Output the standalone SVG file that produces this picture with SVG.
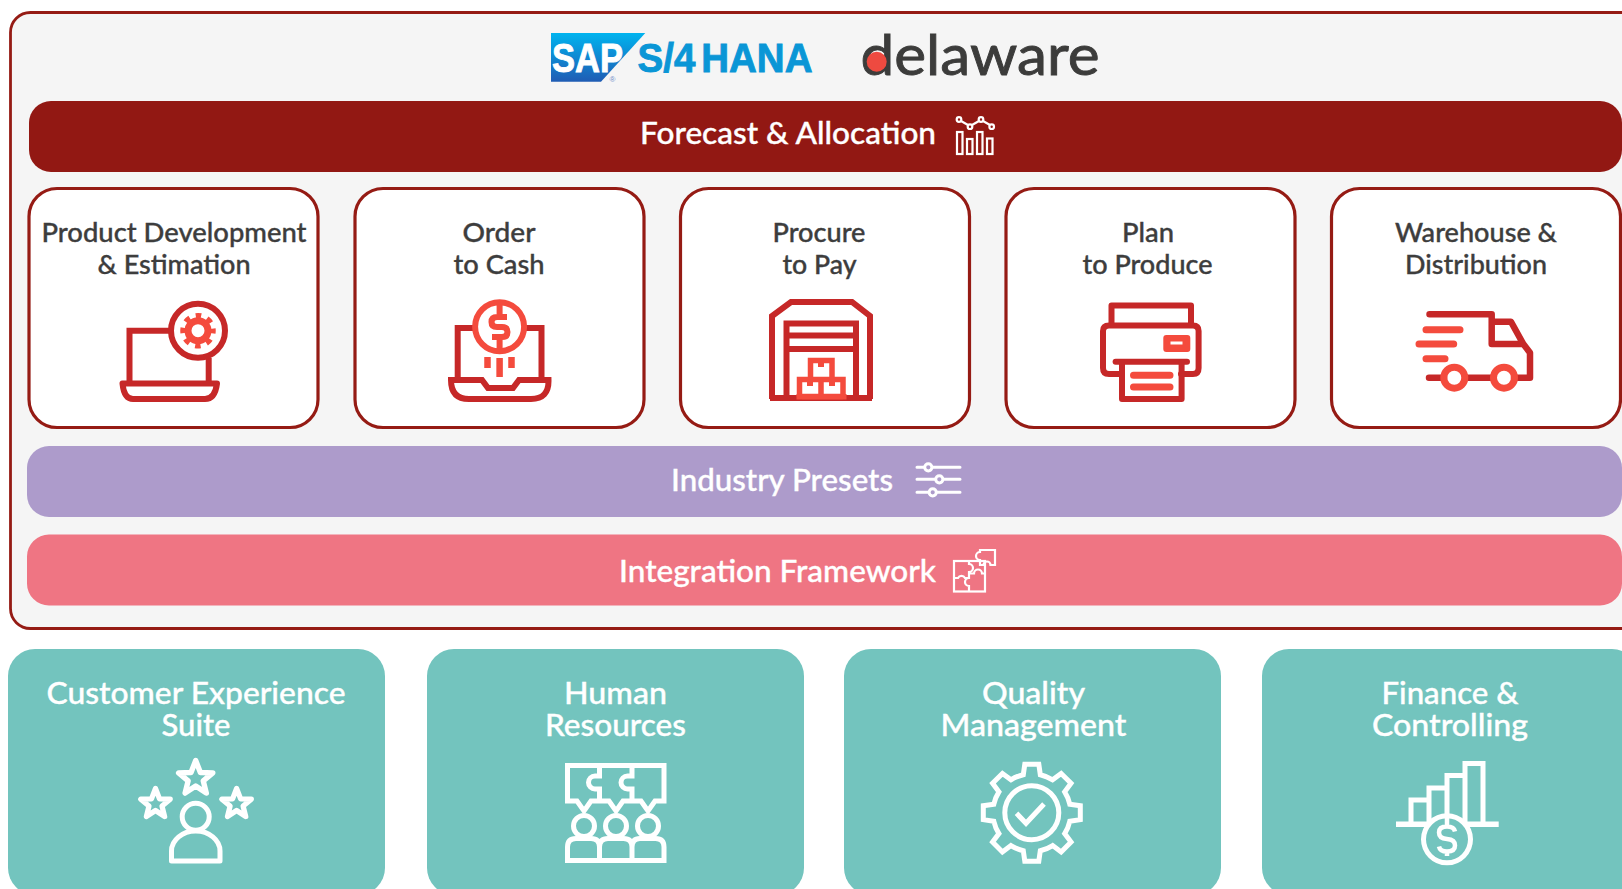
<svg xmlns="http://www.w3.org/2000/svg" width="1622" height="889" viewBox="0 0 1622 889">
<style>
text{font-family:"Lato","Noto Sans","Liberation Sans",sans-serif;text-anchor:middle;font-weight:500}
.dk{fill:#3d3d3d;stroke:#3d3d3d;stroke-width:.35;font-size:26px}
.wh{fill:#fff;stroke:#fff;stroke-width:.35;font-size:30px}
.sap{font-family:"Liberation Sans",sans-serif;font-weight:700;font-size:40px;stroke-width:.9}
.card{fill:#fff;stroke:#951b14;stroke-width:3.2}
.d{fill:none;stroke:#c62828;stroke-width:6;stroke-linejoin:miter}
.l{fill:none;stroke:#f44b3d;stroke-width:5.5}
.lf{fill:#f44b3d;stroke:none}
.r{stroke-linecap:round;stroke-linejoin:round}
.w{fill:none;stroke:#fff;stroke-width:5}
.w2{fill:none;stroke:#fff;stroke-width:2.2}
.teal{fill:#73c4be}
</style>
<defs>
<linearGradient id="sapg" x1="0" y1="0" x2="0" y2="1"><stop offset="0" stop-color="#00b4ef"/><stop offset="1" stop-color="#1f5cb4"/></linearGradient>
<polygon id="star" points="0,-1 0.26,-0.33 0.95,-0.31 0.42,0.13 0.59,0.81 0,0.42 -0.59,0.81 -0.42,0.13 -0.95,-0.31 -0.26,-0.33"/>
</defs>
<rect width="1622" height="889" fill="#fff"/>
<g id="frame"><rect x="10.5" y="12.5" width="1660" height="616" rx="20" fill="#f5f5f5" stroke="#951b14" stroke-width="2.8"/></g>

<g id="logo-sap">
<polygon points="551,33 645.3,33 601,81.7 551,81.7" fill="url(#sapg)"/>
<text class="sap" x="587.500" y="71.700" textLength="71" lengthAdjust="spacingAndGlyphs" style="fill:#fff;stroke:#fff">SAP</text>
<text class="sap" x="725" y="71.700" textLength="175" lengthAdjust="spacingAndGlyphs" style="fill:#0a96d6;stroke:#0a96d6;word-spacing:-5px">S/4 HANA</text>
<text x="612.500" y="81.500" style="font-family:'Liberation Sans',sans-serif;font-weight:400;font-size:8px;fill:#6d8fc9">®</text>
</g>
<g id="logo-delaware">
<text x="980" y="75" textLength="239" lengthAdjust="spacingAndGlyphs" style="font-size:57px;font-weight:400;fill:#3c3c3b;stroke:#3c3c3b;stroke-width:.9">delaware</text>
<circle cx="876.700" cy="61.700" r="10" fill="#ee4a40"/>
</g>

<g id="forecast">
<rect x="29" y="101" width="1593" height="71" rx="22" fill="#921813"/>
<text class="wh" x="788" y="143.500" textLength="296" lengthAdjust="spacingAndGlyphs">Forecast &amp; Allocation</text>
<g class="w2">
<rect x="957" y="132" width="5.500" height="22"/><rect x="967" y="139" width="5.500" height="15"/><rect x="977" y="132" width="5.500" height="22"/><rect x="987" y="138.500" width="5.500" height="15.500"/>
<path d="M961 121L968 125M972 125L979 121M983 121L990 125"/>
<circle cx="959" cy="119.500" r="2.300"/><circle cx="970" cy="126.700" r="2.300"/><circle cx="981" cy="119.500" r="2.300"/><circle cx="991.700" cy="126.700" r="2.300"/>
</g>
</g>

<g id="card-product">
<rect class="card" x="29" y="188.500" width="289" height="239" rx="28"/>
<text class="dk" x="174" y="241.500" textLength="265" lengthAdjust="spacingAndGlyphs">Product Development</text>
<text class="dk" x="174" y="273.500" textLength="153" lengthAdjust="spacingAndGlyphs">&amp; Estimation</text>
<path class="d" d="M170 330.700H129.500V382.700M208.700 358V382.700"/>
<path class="d r" d="M122.500 383.500H217Q215 399 205 399H133Q124 399 122.500 383.500Z"/>
<circle cx="198" cy="330.700" r="27" class="d" style="fill:#fff"/>
<circle cx="198" cy="330.700" r="10" class="l" style="stroke-width:7"/>
<circle cx="198" cy="330.700" r="15" class="l" style="stroke-dasharray:5.500 6.280;stroke-dashoffset:2.750"/>
</g>

<g id="card-order">
<rect class="card" x="355" y="188.500" width="289" height="239" rx="28"/>
<text class="dk" x="499" y="241.500" textLength="73" lengthAdjust="spacingAndGlyphs">Order</text>
<text class="dk" x="499" y="273.500" textLength="91" lengthAdjust="spacingAndGlyphs">to Cash</text>
<path class="d" d="M475 328H457.700V380M522 328H541.500V380"/>
<path class="d" d="M451 380H482L488 388H513L519 380H548.500Q549 399 531 399H469Q451 399 451 380Z"/>
<circle cx="499.600" cy="326.700" r="24.500" class="l" style="fill:#fff;stroke-width:6"/>
<path class="l" d="M507 317H497Q491.500 317 491.500 322Q491.500 327 497 327H502Q507.500 327 507.500 332Q507.500 337 502 337H492M499.600 304V317M499.600 337V349" style="stroke-width:6"/>
<path class="l" d="M487.500 357V368M499.600 358V377M511.500 357V368" style="stroke-width:6.500"/>
</g>

<g id="card-procure">
<rect class="card" x="680.500" y="188.500" width="289" height="239" rx="28"/>
<text class="dk" x="819" y="241.500" textLength="93" lengthAdjust="spacingAndGlyphs">Procure</text>
<text class="dk" x="819.500" y="273.500" textLength="74" lengthAdjust="spacingAndGlyphs">to Pay</text>
<path class="d" d="M772 399V316L791 302H852L870 316V399M770 398H872"/>
<path class="d" d="M786.500 398V323.500H856V398M786.500 335.500H856M786.500 349H856"/>
<path class="l" d="M799.500 397V379.500H843V397M802 396.500H843M821 380V396M810.500 379V360.500H832V379" style="fill:#fff"/>
<path class="lf" d="M796.500 394H846.500V399.500H796.500ZM818 360H824V367H818ZM807 379H813V386H807ZM829 379H835V386H829Z"/>
</g>

<g id="card-plan">
<rect class="card" x="1006" y="188.500" width="289" height="239" rx="28"/>
<text class="dk" x="1148" y="241.500" textLength="52" lengthAdjust="spacingAndGlyphs">Plan</text>
<text class="dk" x="1147.500" y="273.500" textLength="130" lengthAdjust="spacingAndGlyphs">to Produce</text>
<path class="d r" d="M1111.500 325V305.500H1191V325"/>
<path class="d r" d="M1122 374H1109Q1103 374 1103 368V331Q1103 325.500 1109 325.500H1193Q1198.600 325.500 1198.600 331V368Q1198.600 374 1193 374H1181"/>
<rect class="lf" x="1163.300" y="335" width="27" height="17" rx="3"/>
<rect x="1170.500" y="341.500" width="12" height="3" fill="#fff"/>
<path class="d r" d="M1115.600 361.700H1187"/>
<path class="d r" d="M1122 362V399H1181.600V362"/>
<path class="l r" d="M1133.500 375.300H1170M1133.500 387H1170" style="stroke-width:7"/>
</g>

<g id="card-warehouse">
<rect class="card" x="1331.500" y="188.500" width="289" height="239" rx="28"/>
<text class="dk" x="1476" y="241.500" textLength="162" lengthAdjust="spacingAndGlyphs">Warehouse &amp;</text>
<text class="dk" x="1476" y="273.500" textLength="142" lengthAdjust="spacingAndGlyphs">Distribution</text>
<path class="d r" d="M1429.500 314.300H1491.700V344H1523M1491.700 321.700H1511L1523.300 344L1530 352.700V377.700H1514M1465 377.700H1493M1429 377.700H1444" style="stroke-width:6.500"/>
<path class="l r" d="M1426 329.700H1460M1419 344H1453.700M1426 358.700H1445" style="stroke-width:7"/>
<circle cx="1454.300" cy="377.700" r="10.500" class="l" style="stroke-width:7"/>
<circle cx="1504" cy="377.700" r="10.500" class="l" style="stroke-width:7"/>
</g>

<g id="presets">
<rect x="27" y="446" width="1595" height="71" rx="22" fill="#ad9bcb"/>
<text class="wh" x="782" y="490.500" textLength="222" lengthAdjust="spacingAndGlyphs">Industry Presets</text>
<g class="w2" style="stroke-width:3;stroke-linecap:round">
<path d="M917 467.300H924M933 467.300H960M917 479.300H935M944 479.300H960M917 492.300H928M937 492.300H960"/>
<circle cx="928.300" cy="467.300" r="3.600"/><circle cx="939.300" cy="479.300" r="3.600"/><circle cx="932.700" cy="492.300" r="3.600"/>
</g>
</g>

<g id="integration">
<rect x="27" y="534.500" width="1595" height="71" rx="22" fill="#ef7583"/>
<text class="wh" x="777.500" y="581.500" textLength="317" lengthAdjust="spacingAndGlyphs">Integration Framework</text>
<g class="w2">
<path d="M980 550H995V565H990.500A3.500 3.500 0 0 0 983.500 565H980V560A4 4 0 0 1 980 552Z"/>
<rect x="954" y="561" width="31" height="30.500"/>
<path d="M969 561V564A4 4 0 0 1 969 572V573.500H974A4 4 0 0 1 982 573.500H985M969 573.500V578A4 4 0 0 0 969 586V591.500M954 578H958A4 4 0 0 1 965 578H969"/>
</g>
</g>

<g id="box-customer">
<rect class="teal" x="8" y="649" width="377" height="246" rx="27"/>
<text class="wh" x="196" y="703.500" textLength="299" lengthAdjust="spacingAndGlyphs">Customer Experience</text>
<text class="wh" x="196" y="735.500" textLength="69" lengthAdjust="spacingAndGlyphs">Suite</text>
<g class="w r">
<use href="#star" transform="translate(195.700 778.500) scale(18)" style="stroke-width:.3"/>
<use href="#star" transform="translate(155.500 804) scale(15.500)" style="stroke-width:.34"/>
<use href="#star" transform="translate(236.600 804) scale(15.500)" style="stroke-width:.34"/>
<circle cx="195.700" cy="816.700" r="13.500"/>
<path d="M171.500 861H220V851C220 840 209 831 195.700 831C182.500 831 171.500 840 171.500 851Z"/>
</g>
</g>

<g id="box-hr">
<rect class="teal" x="427" y="649" width="377" height="246" rx="27"/>
<text class="wh" x="615.500" y="703.500" textLength="103" lengthAdjust="spacingAndGlyphs">Human</text>
<text class="wh" x="615.500" y="735.500" textLength="141" lengthAdjust="spacingAndGlyphs">Resources</text>
<g class="w">
<path d="M567.500 765.500H664V801H655L648 811L641 801H623L616 811L609 801H591L584 811L577 801H567.500Z"/>
<path d="M599.500 765V776H595A6.500 6.500 0 0 0 595 789H599.500V801M632 765V776H627.500A6.500 6.500 0 0 0 627.500 789H632V801"/>
<circle cx="584" cy="826" r="10.500"/><circle cx="616" cy="826" r="10.500"/><circle cx="648" cy="826" r="10.500"/>
<path d="M567.500 860.500V847Q567.500 838.500 576 838.500H591Q599.500 838.500 599.500 847V860.500M599.500 847Q599.500 838.500 608 838.500H623.500Q632 838.500 632 847V860.500M632 847Q632 838.500 640 838.500H655.500Q664 838.500 664 847V860.500M565 860.500H666.500"/>
</g>
</g>

<g id="box-quality">
<rect class="teal" x="844" y="649" width="377" height="246" rx="27"/>
<text class="wh" x="1033.500" y="703.500" textLength="103" lengthAdjust="spacingAndGlyphs">Quality</text>
<text class="wh" x="1033.500" y="735.500" textLength="186" lengthAdjust="spacingAndGlyphs">Management</text>
<g class="w" transform="translate(1031.800 812.700)">
<path d="M-8.500-38L-7-48.500H7L8.500-38A39 39 0 0 1 20.860-32.880L29.350-39.240L39.240-29.350L32.880-20.860A39 39 0 0 1 38-8.500L48.500-7V7L38 8.500A39 39 0 0 1 32.880 20.860L39.240 29.350L29.350 39.240L20.860 32.880A39 39 0 0 1 8.500 38L7 48.500H-7L-8.500 38A39 39 0 0 1-20.860 32.880L-29.350 39.240L-39.240 29.350L-32.880 20.860A39 39 0 0 1-38 8.500L-48.500 7V-7L-38-8.500A39 39 0 0 1-32.880-20.860L-39.240-29.350L-29.350-39.240L-20.860-32.880A39 39 0 0 1-8.500-38Z"/>
<circle r="27"/>
<path d="M-15.300 .6L-5.800 10.600L12.200-8.700"/>
</g>
</g>

<g id="box-finance">
<rect class="teal" x="1262" y="649" width="377" height="246" rx="27"/>
<text class="wh" x="1450" y="703.500" textLength="137" lengthAdjust="spacingAndGlyphs">Finance &amp;</text>
<text class="wh" x="1450" y="735.500" textLength="156" lengthAdjust="spacingAndGlyphs">Controlling</text>
<g class="w">
<path d="M1411 824V800H1429V788H1447V775.500H1465V763.500H1483V824M1429 800V824M1447 788V824M1465 775.500V824"/>
<path d="M1396 824.300H1498.700" style="stroke-width:5.500"/>
<circle cx="1447" cy="839.300" r="23.500" style="fill:#73c4be"/>
<path d="M1455 831.500Q1454 826.500 1447 826.500Q1439 826.500 1439 832.500Q1439 838.500 1447 839Q1455 839.500 1455 845.500Q1455 851.500 1447 851.500Q1440 851.500 1439 846.500M1447 818V826.500M1447 851.500V856" style="stroke-width:4.500"/>
</g>
</g>
</svg>
